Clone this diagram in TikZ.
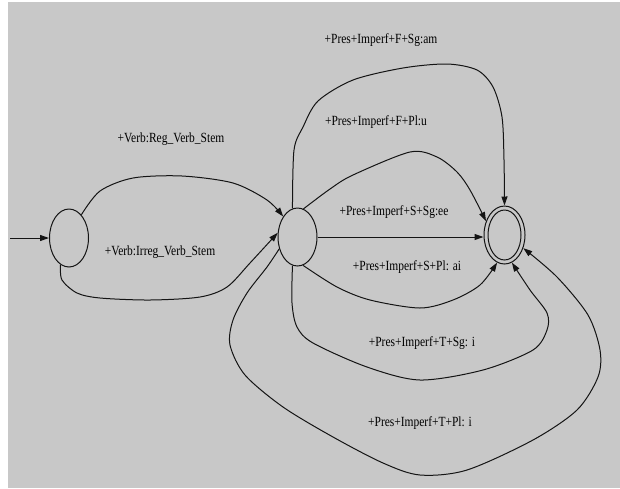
\documentclass[tikz,border=0pt]{standalone}
\usepackage{fontspec}
\setmainfont{Liberation Serif}
\usetikzlibrary{shapes.geometric,arrows.meta}
\definecolor{canvas}{RGB}{200,200,200}
\definecolor{ink}{RGB}{20,20,20}
\begin{document}
\begin{tikzpicture}[x=1pt,y=-1pt,
  state/.style={ellipse,draw=ink,line width=1pt,minimum width=39pt,minimum height=58pt,inner sep=0pt},
  trans/.style={draw=ink,line width=1pt,-{Triangle[length=9pt,width=6pt]}},
  lab/.style={anchor=base,inner sep=0pt,text=black,font=\fontsize{14}{16}\selectfont,xscale=0.82}]
% canvas
\fill[white] (0,0) rectangle (620,488);
\fill[canvas] (8,2) rectangle (620,488);
\useasboundingbox (0,0) rectangle (620,488);

% states
\node[state] (s0) at (69,238) {};
\node[state] (s1) at (297.5,237) {};
\node[state,minimum width=41pt] (s2) at (504.5,235) {};
\node[ellipse,draw=ink,line width=1pt,minimum width=33pt,minimum height=50pt,inner sep=0pt] (s2in) at (s2) {};
\coordinate (start) at (10,238);

% initial arrow
\draw[trans] (start) -- (s0.west);

% stem transitions
\draw[trans] plot[smooth] coordinates {(s0.62) (100,191) (133,178) (182,176) (233,183) (267,200) (s1.125)};
\draw[trans] plot[smooth] coordinates {(s0.252) (62,280) (77,293) (100,298) (150,300) (200,297) (227,287) (250,263) (s1.168)};

% suffix transitions
\draw[trans] plot[smooth] coordinates {(s1.100) (294,150) (303,127) (318,101) (353,80) (403,68) (447,64) (477,70) (493,87) (502,117) (504,160) (s2.north)};
\draw[trans] plot[smooth] coordinates {(s1.78) (330,189) (353,175) (410,152) (437,157) (457,172) (470,190) (s2.143)};
\draw[trans] (s1.east) -- (s1.east -| s2.west);
\draw[trans] plot[smooth] coordinates {(s1.281) (337,287) (370,300) (420,308) (453,300) (480,285) (s2.255)};
\draw[trans] plot[smooth] coordinates {(s1.260) (292,303) (297,327) (313,343) (367,367) (420,380) (483,370) (533,350) (547,330) (547,313) (530,290) (s2.285)};
\draw[trans] plot[smooth] coordinates {(s1.213) (267,267) (247,293) (233,320) (230,345) (245,375) (283,407) (333,437) (383,463) (420,475) (467,470) (533,440) (577,410) (598,377) (600,350) (588,315) (557,277) (s2.325)};

% labels
\node[lab] (lreg) at (171,142.7) {+Verb:Reg\_Verb\_Stem};
\node[lab] (lirr) at (160,255.7) {+Verb:Irreg\_Verb\_Stem};
\node[lab] (lfsg) at (381,43.3) {+Pres+Imperf+F+Sg:am};
\node[lab] (lfpl) at (376,125) {+Pres+Imperf+F+Pl:u};
\node[lab] (lssg) at (394,215) {+Pres+Imperf+S+Sg:ee};
\node[lab] (lspl) at (407,270) {+Pres+Imperf+S+Pl: ai};
\node[lab] (ltsg) at (422,346.7) {+Pres+Imperf+T+Sg: i};
\node[lab] (ltpl) at (420,426.7) {+Pres+Imperf+T+Pl: i};
\end{tikzpicture}
\end{document}
